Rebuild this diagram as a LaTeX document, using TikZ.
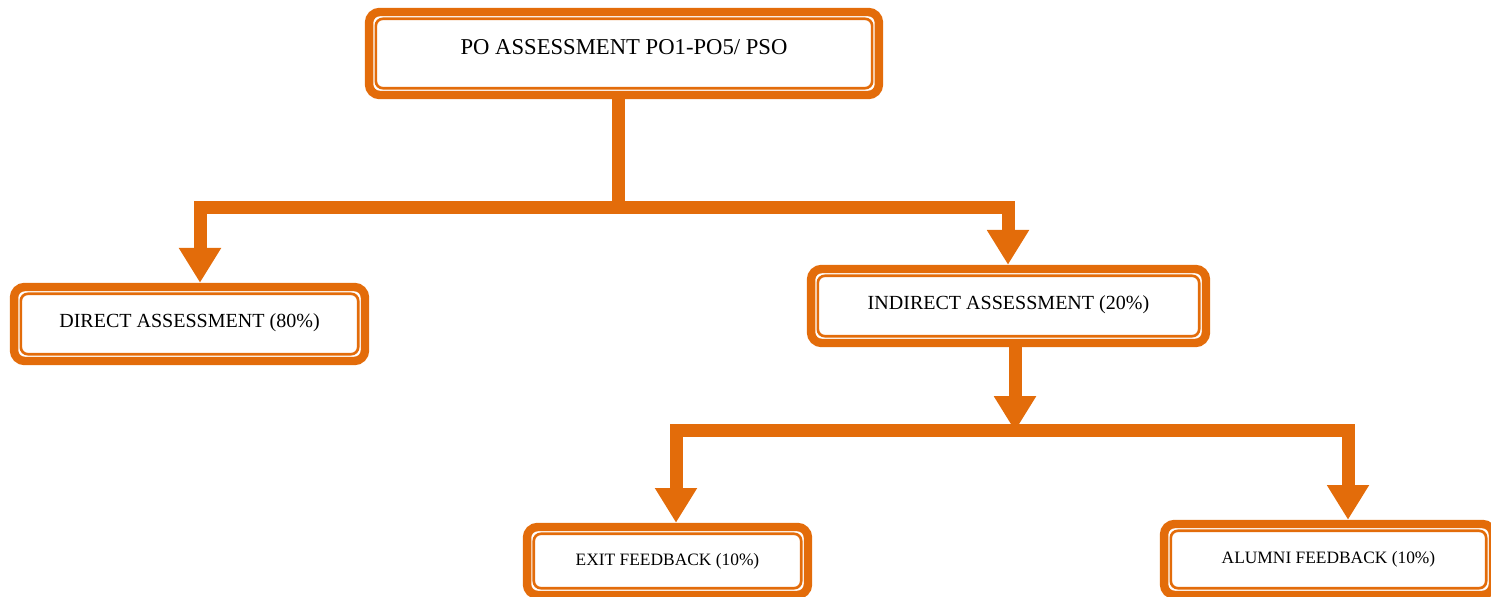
\documentclass[tikz,border=0pt]{standalone}
\usepackage{fontspec}
\setmainfont{Liberation Serif}
\usepackage{xcolor}
\usepackage{tikz}
\usetikzlibrary{arrows.meta}
\usetikzlibrary{calc}
\definecolor{accent}{RGB}{227,108,10}

\begin{document}
\begin{tikzpicture}[x=0.02cm,y=-0.02cm]
	\tikzset{
		box/.style={draw=accent,line width=4.8pt,rounded corners=6pt,fill=white,inner sep=0,align=center},
		inner/.style={draw=accent,line width=1.5pt,rounded corners=4pt},
		%
		bar/.style={draw=accent,line width=7.4pt},
		link/.style={bar,-{Triangle[width=22.7pt,length=19.8pt]}},
	}
	
	\useasboundingbox (0,0) rectangle (1491,597);
	
	\node[box,minimum width=10.2cm,minimum height=1.66cm,text depth=7pt,font=\fontsize{12.9}{15}\selectfont] (po) at (624,53.5) {PO ASSESSMENT PO1-PO5/ PSO};
	\node[box,minimum width=7.02cm,minimum height=1.48cm,text depth=3.6pt,font=\fontsize{11.4}{14}\selectfont] (dir) at (189.5,324) {DIRECT ASSESSMENT (80\%)};
	\node[box,minimum width=7.9cm,minimum height=1.48cm,text depth=4.2pt,font=\fontsize{11.4}{14}\selectfont] (ind) at (1008.5,306) {INDIRECT ASSESSMENT (20\%)};
	\node[box,minimum width=5.62cm,minimum height=1.36cm,font=\fontsize{9.9}{12}\selectfont] (exit) at (667.5,561) {EXIT FEEDBACK (10\%)};
	\node[box,minimum width=6.58cm,minimum height=1.42cm,text depth=2.3pt,font=\fontsize{9.9}{12}\selectfont] (alum) at (1328.5,559.5) {ALUMNI FEEDBACK (10\%)};
	
	\foreach \n in {po,dir,ind,exit,alum}
	\draw[inner] ($(\n.north west)+(11,11)$) rectangle ($(\n.south east)+(-11,-11)$);
	
	% first split
	\coordinate (j1) at (618.5,208);
	\coordinate (dl) at (200,208);
	\coordinate (dr) at (1008,208);
	\draw[bar] (po.south -| j1) -- (j1);
	\draw[link] (j1) -| (dl |- dir.north);
	\draw[link] (j1) -| (dr |- ind.north);
	
	% second split
	\coordinate (j2) at (1015,431);
	\coordinate (el) at (676,431);
	\coordinate (er) at (1348,431);
	\draw[link] (ind.south -| j2) -- (j2);
	\draw[link] (j2) -| (el |- exit.north);
	\draw[link] (j2) -| (er |- alum.north);
\end{tikzpicture}
\end{document}
